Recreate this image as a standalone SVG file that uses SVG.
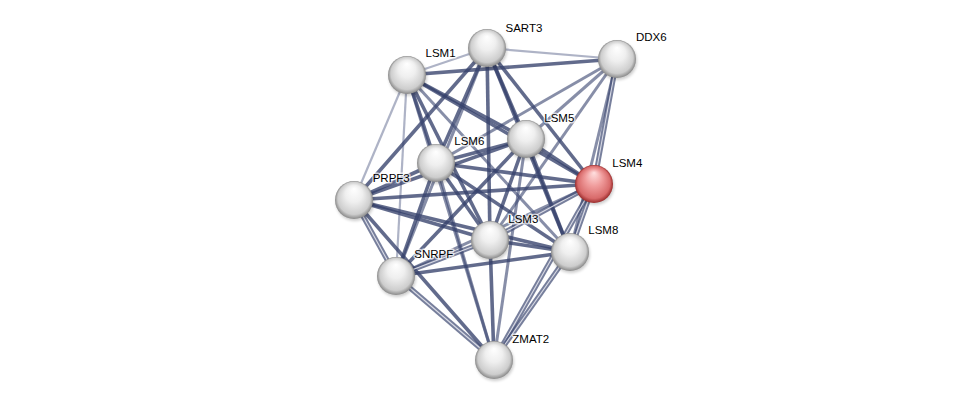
<svg xmlns="http://www.w3.org/2000/svg" width="976" height="406" viewBox="0 0 976 406">
<style>
.e{stroke:#36416b;stroke-width:3.6;stroke-opacity:0.78;fill:none}
.m{stroke:#3d4872;stroke-width:3;stroke-opacity:0.62;fill:none}
.l{stroke:#6c7497;stroke-width:2.2;stroke-opacity:0.55;fill:none}
.d{stroke:#3d4872;stroke-width:5;stroke-opacity:0.7;fill:none}
.di{stroke:#e4e6ee;stroke-width:1.1;stroke-opacity:0.9;fill:none}
.n{fill:url(#gg)}
.r{fill:url(#gr)}
.sh{fill:#000;opacity:0.2;filter:url(#blur)}
text{font-family:"Liberation Sans",Arial,sans-serif;font-size:11.5px;fill:#000;stroke:#fff;stroke-width:3;stroke-opacity:0.7;paint-order:stroke;stroke-linejoin:round}
</style>
<defs>
<radialGradient id="gg" cx="0.5" cy="0.5" r="0.5" fx="0.5" fy="0.2">
<stop offset="0" stop-color="#ffffff"/>
<stop offset="0.45" stop-color="#efefef"/>
<stop offset="0.85" stop-color="#cdcdcd"/>
<stop offset="1" stop-color="#8a8a8a"/>
</radialGradient>
<radialGradient id="gr" cx="0.5" cy="0.5" r="0.5" fx="0.5" fy="0.2">
<stop offset="0" stop-color="#ffe0e0"/>
<stop offset="0.45" stop-color="#f09c9c"/>
<stop offset="0.85" stop-color="#d86a6a"/>
<stop offset="1" stop-color="#9a2c2c"/>
</radialGradient>
<filter id="blur" x="-50%" y="-50%" width="200%" height="200%"><feGaussianBlur stdDeviation="1.5"/></filter>
</defs>
<rect width="976" height="406" fill="#fff"/>
<g id="edges">
<line class="l" x1="487" y1="48" x2="617" y2="59"/>
<line class="l" x1="487" y1="48" x2="407" y2="75"/>
<line class="l" x1="407" y1="75" x2="354" y2="200"/>
<line class="l" x1="407" y1="75" x2="396" y2="276"/>
<line class="e" x1="407" y1="75" x2="617" y2="59"/>
<line class="e" x1="487" y1="48" x2="436" y2="163"/>
<line class="e" x1="487" y1="48" x2="354" y2="200"/>
<line class="e" x1="487" y1="48" x2="526" y2="139"/>
<line class="e" x1="487" y1="48" x2="594" y2="184"/>
<line class="e" x1="487" y1="48" x2="490" y2="240"/>
<line class="e" x1="487" y1="48" x2="570" y2="252"/>
<line class="m" x1="487" y1="48" x2="396" y2="276"/>
<line class="m" x1="617" y1="59" x2="436" y2="163"/>
<line class="m" x1="617" y1="59" x2="526" y2="139"/>
<line class="m" x1="617" y1="59" x2="490" y2="240"/>
<line class="m" x1="617" y1="59" x2="570" y2="252"/>
<line class="d" x1="617" y1="59" x2="594" y2="184"/>
<line class="di" x1="617" y1="59" x2="594" y2="184"/>
<line class="e" x1="407" y1="75" x2="436" y2="163"/>
<line class="e" x1="407" y1="75" x2="526" y2="139"/>
<line class="e" x1="407" y1="75" x2="594" y2="184"/>
<line class="e" x1="407" y1="75" x2="490" y2="240"/>
<line class="m" x1="407" y1="75" x2="570" y2="252"/>
<line class="m" x1="407" y1="75" x2="494" y2="360"/>
<line class="e" x1="526" y1="139" x2="436" y2="163"/>
<line class="e" x1="526" y1="139" x2="594" y2="184"/>
<line class="e" x1="526" y1="139" x2="490" y2="240"/>
<line class="e" x1="526" y1="139" x2="570" y2="252"/>
<line class="e" x1="526" y1="139" x2="354" y2="200"/>
<line class="e" x1="526" y1="139" x2="396" y2="276"/>
<line class="m" x1="526" y1="139" x2="494" y2="360"/>
<line class="e" x1="436" y1="163" x2="594" y2="184"/>
<line class="e" x1="436" y1="163" x2="490" y2="240"/>
<line class="e" x1="436" y1="163" x2="570" y2="252"/>
<line class="e" x1="436" y1="163" x2="354" y2="200"/>
<line class="e" x1="436" y1="163" x2="396" y2="276"/>
<line class="m" x1="436" y1="163" x2="494" y2="360"/>
<line class="e" x1="594" y1="184" x2="354" y2="200"/>
<line class="d" x1="594" y1="184" x2="490" y2="240"/>
<line class="di" x1="594" y1="184" x2="490" y2="240"/>
<line class="d" x1="594" y1="184" x2="570" y2="252"/>
<line class="di" x1="594" y1="184" x2="570" y2="252"/>
<line class="m" x1="594" y1="184" x2="396" y2="276"/>
<line class="d" x1="594" y1="184" x2="494" y2="360"/>
<line class="di" x1="594" y1="184" x2="494" y2="360"/>
<line class="e" x1="354" y1="200" x2="490" y2="240"/>
<line class="e" x1="354" y1="200" x2="570" y2="252"/>
<line class="d" x1="354" y1="200" x2="396" y2="276"/>
<line class="di" x1="354" y1="200" x2="396" y2="276"/>
<line class="e" x1="354" y1="200" x2="494" y2="360"/>
<line class="e" x1="490" y1="240" x2="570" y2="252"/>
<line class="d" x1="490" y1="240" x2="396" y2="276"/>
<line class="di" x1="490" y1="240" x2="396" y2="276"/>
<line class="e" x1="490" y1="240" x2="494" y2="360"/>
<line class="e" x1="570" y1="252" x2="396" y2="276"/>
<line class="d" x1="570" y1="252" x2="494" y2="360"/>
<line class="di" x1="570" y1="252" x2="494" y2="360"/>
<line class="d" x1="396" y1="276" x2="494" y2="360"/>
<line class="di" x1="396" y1="276" x2="494" y2="360"/>
</g>
<g id="SART3"><circle class="sh" cx="488" cy="50" r="19"/><circle class="n" cx="487" cy="48" r="19"/><text x="505.5" y="31.5">SART3</text></g>
<g id="DDX6"><circle class="sh" cx="618" cy="61" r="19"/><circle class="n" cx="617" cy="59" r="19"/><text x="636" y="40.7">DDX6</text></g>
<g id="LSM1"><circle class="sh" cx="408" cy="77" r="19"/><circle class="n" cx="407" cy="75" r="19"/><text x="425.5" y="56.7">LSM1</text></g>
<g id="LSM5"><circle class="sh" cx="527" cy="141" r="19"/><circle class="n" cx="526" cy="139" r="19"/><text x="544.3" y="121.7">LSM5</text></g>
<g id="LSM6"><circle class="sh" cx="437" cy="165" r="19"/><circle class="n" cx="436" cy="163" r="19"/><text x="454.3" y="145">LSM6</text></g>
<g id="LSM4"><circle class="sh" cx="595" cy="186" r="19"/><circle class="r" cx="594" cy="184" r="19"/><text x="612.3" y="166.7">LSM4</text></g>
<g id="PRPF3"><circle class="sh" cx="355" cy="202" r="19"/><circle class="n" cx="354" cy="200" r="19"/><text x="372.7" y="181.7">PRPF3</text></g>
<g id="LSM3"><circle class="sh" cx="491" cy="242" r="19"/><circle class="n" cx="490" cy="240" r="19"/><text x="508.3" y="223.3">LSM3</text></g>
<g id="LSM8"><circle class="sh" cx="571" cy="254" r="19"/><circle class="n" cx="570" cy="252" r="19"/><text x="588.3" y="234">LSM8</text></g>
<g id="SNRPF"><circle class="sh" cx="397" cy="278" r="19"/><circle class="n" cx="396" cy="276" r="19"/><text x="414.3" y="258.3">SNRPF</text></g>
<g id="ZMAT2"><circle class="sh" cx="495" cy="362" r="19"/><circle class="n" cx="494" cy="360" r="19"/><text x="512.3" y="343.3">ZMAT2</text></g>
</svg>
